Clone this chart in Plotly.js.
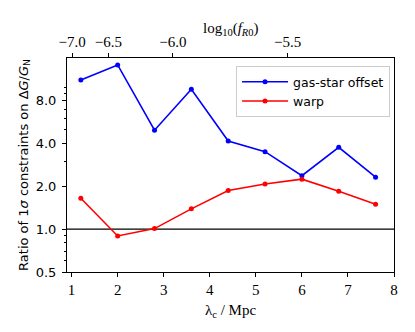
<!DOCTYPE html>
<html>
<head>
<meta charset="utf-8">
<script src="https://cdn.plot.ly/plotly-3.0.1.min.js"></script>
<style>html,body{margin:0;padding:0;background:#fff;}#chart{width:415px;height:332px;}</style>
</head>
<body>
<div id="chart"></div>
<script>
const lambdaC = [1.2, 2.0, 2.8, 3.6, 4.4, 5.2, 6.0, 6.8, 7.6];
const gasStarOffset = [11.2, 14.3, 4.97, 9.65, 4.17, 3.51, 2.38, 3.77, 2.32];
const warp = [1.65, 0.896, 1.01, 1.39, 1.87, 2.08, 2.25, 1.85, 1.50];
const yTickVals = [0.5, 1.0, 2.0, 4.0, 8.0];
const yTickText = ['0.5', '1.0', '2.0', '4.0', '8.0'];
const yMinorVals = [0.6, 0.7, 0.8, 0.9, 3, 5, 6, 7, 9, 10];
const xTickVals = [1, 2, 3, 4, 5, 6, 7, 8];
const topTickLog = [-7.0, -6.5, -6.0, -5.5];
const topTickText = ['\u22127.0', '\u22126.5', '\u22126.0', '\u22125.5'];
// lambda_c = 32 Mpc * sqrt(f_R0 / 1e-4)
const topTickPos = topTickLog.map(l => 32 * Math.sqrt(Math.pow(10, l) / 1e-4));

const serif = 'Liberation Serif, DejaVu Serif, serif';
const sans = 'DejaVu Sans, sans-serif';

const traces = [
  {x: lambdaC, y: gasStarOffset, name: 'gas-star offset', mode: 'lines+markers',
   line: {color: '#0000ff', width: 1.6}, marker: {color: '#0000ff', size: 5}},
  {x: lambdaC, y: warp, name: 'warp', mode: 'lines+markers',
   line: {color: '#ff0000', width: 1.6}, marker: {color: '#ff0000', size: 5}},
  {x: [topTickPos[0]], y: [1], xaxis: 'x2', yaxis: 'y', showlegend: false, hoverinfo: 'skip',
   mode: 'markers', marker: {opacity: 0}}
];

const layout = {
  width: 415, height: 332,
  margin: {l: 67, r: 21, t: 58, b: 60},
  paper_bgcolor: '#fff', plot_bgcolor: '#fff',
  showlegend: true,
  legend: {x: 0.517, y: 0.962, xanchor: 'left', yanchor: 'top',
    bgcolor: 'rgba(255,255,255,0.8)', bordercolor: '#cccccc', borderwidth: 1,
    font: {family: sans, size: 12.5, color: '#000'}, tracegroupgap: 2, itemwidth: 46},
  xaxis: {range: [0.9, 8], tickmode: 'array', tickvals: xTickVals,
    ticks: 'outside', ticklen: 4, tickwidth: 1, tickcolor: '#000',
    showline: true, linecolor: '#000', linewidth: 1, mirror: true,
    showgrid: false, zeroline: false,
    tickfont: {family: serif, size: 15, color: '#000'}},
  xaxis2: {range: [0.9, 8], overlaying: 'x', side: 'top', anchor: 'y',
    tickmode: 'array', tickvals: topTickPos, ticktext: topTickText,
    ticks: 'outside', ticklen: 4, tickwidth: 1, tickcolor: '#000',
    showline: false, showgrid: false, zeroline: false,
    tickfont: {family: serif, size: 15, color: '#000'}},
  yaxis: {type: 'log', range: [Math.log10(0.5), Math.log10(16)],
    tickmode: 'array', tickvals: yTickVals, ticktext: yTickText,
    ticks: 'outside', ticklen: 4, tickwidth: 1, tickcolor: '#000', ticklabelstandoff: 3,
    minor: {tickmode: 'array', tickvals: yMinorVals, ticks: 'outside', ticklen: 2, tickcolor: '#000', showgrid: false},
    showline: true, linecolor: '#000', linewidth: 1, mirror: true,
    showgrid: false, zeroline: false,
    tickfont: {family: sans, size: 13, color: '#000'},
    title: {text: 'Ratio of 1<i>\u03c3</i> constraints on \u0394<i>G</i>/<i>G</i><sub>N</sub>', font: {family: sans, size: 13, color: '#000'}, standoff: 4}},
  annotations: [
    {text: '\u03bb<sub>c</sub> / Mpc', xref: 'paper', yref: 'paper', x: 0.5, y: -0.182,
     xanchor: 'center', yanchor: 'middle', showarrow: false,
     font: {family: serif, size: 15, color: '#000'}},
    {text: 'log<sub>10</sub>(<i>f</i><sub><i>R</i>0</sub>)', xref: 'paper', yref: 'paper', x: 0.5, y: 1.137,
     xanchor: 'center', yanchor: 'middle', showarrow: false,
     font: {family: serif, size: 15, color: '#000'}}
  ],
  shapes: [{type: 'line', xref: 'paper', x0: 0, x1: 1, yref: 'y', y0: 1, y1: 1,
    line: {color: '#000', width: 1.2}, layer: 'below'}]
};

Plotly.newPlot('chart', traces, layout, {staticPlot: true, displayModeBar: false});
</script>
</body>
</html>
